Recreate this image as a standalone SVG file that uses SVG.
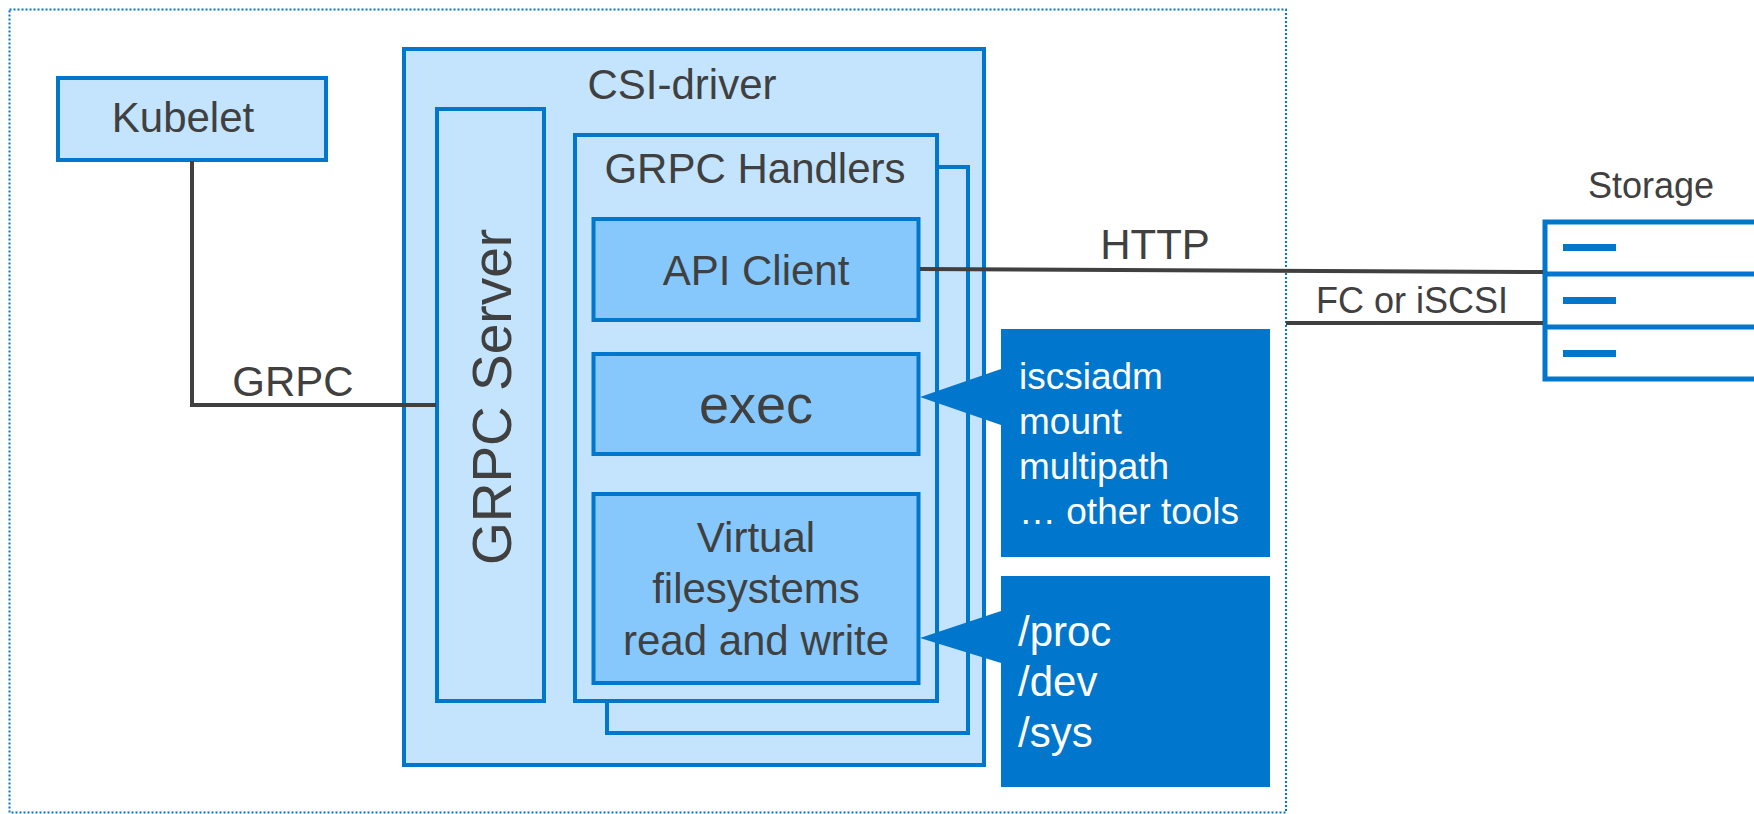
<svg xmlns="http://www.w3.org/2000/svg" width="1754" height="814" viewBox="0 0 1754 814">
<style>
.t{font-family:"Liberation Sans",Arial,sans-serif;fill:#404040}
.w{font-family:"Liberation Sans",Arial,sans-serif;fill:#ffffff}
.lb{fill:#C3E4FC;stroke:#0077CC;stroke-width:4}
.mb{fill:#86C8FB;stroke:#0077CC;stroke-width:4}
.dk{fill:#0077CC}
.ln{stroke:#404040;stroke-width:4;fill:none}
</style>
<rect width="1754" height="814" fill="#ffffff"/>
<rect id="boundary" x="9.5" y="9.5" width="1276.5" height="803" fill="none" stroke="#0077CC" stroke-width="2" stroke-dasharray="2 2"/>
<g id="kubelet">
<rect class="lb" x="58" y="78" width="268" height="82"/>
<text class="t" x="183" y="132" font-size="42" text-anchor="middle">Kubelet</text>
</g>
<g id="csi-driver">
<rect class="lb" x="404" y="49" width="580" height="716"/>
<text class="t" x="682" y="99" font-size="42" text-anchor="middle">CSI-driver</text>
</g>
<g id="grpc-server">
<rect class="lb" x="437" y="109" width="107" height="592"/>
<text class="t" transform="translate(511,397) rotate(-90)" font-size="55" text-anchor="middle">GRPC Server</text>
</g>
<g id="grpc-handlers">
<rect class="lb" x="607" y="167" width="361" height="566"/>
<rect class="lb" x="575" y="135" width="362" height="566"/>
<text class="t" x="755" y="183" font-size="42" text-anchor="middle">GRPC Handlers</text>
</g>
<g id="api-client">
<rect class="mb" x="593.5" y="219" width="325" height="101"/>
<text class="t" x="756" y="285" font-size="42" text-anchor="middle">API Client</text>
</g>
<g id="exec">
<rect class="mb" x="593.5" y="354" width="325" height="100"/>
<text class="t" x="756" y="423" font-size="54" text-anchor="middle">exec</text>
</g>
<g id="vfs">
<rect class="mb" x="593.5" y="494" width="325" height="189"/>
<text class="t" font-size="42" text-anchor="middle"><tspan x="756" y="552">Virtual</tspan><tspan x="756" y="603">filesystems</tspan><tspan x="756" y="655">read and write</tspan></text>
</g>
<g id="tools-callout">
<path class="dk" d="M1001,329 H1270 V557 H1001 V425 L920,397 L1001,369 Z"/>
<text class="w" font-size="37"><tspan x="1019" y="389">iscsiadm</tspan><tspan x="1019" y="434">mount</tspan><tspan x="1019" y="479">multipath</tspan><tspan x="1019" y="524">… other tools</tspan></text>
</g>
<g id="fs-callout">
<path class="dk" d="M1001,576 H1270 V787 H1001 V663 L920,638 L1001,611 Z"/>
<text class="w" font-size="42"><tspan x="1018" y="646">/proc</tspan><tspan x="1018" y="696">/dev</tspan><tspan x="1018" y="747">/sys</tspan></text>
</g>
<g id="storage">
<text class="t" x="1651" y="198" font-size="36" text-anchor="middle">Storage</text>
<rect x="1545" y="222" width="220" height="157" fill="#ffffff" stroke="#0077CC" stroke-width="5"/>
<line x1="1545" y1="274" x2="1754" y2="274" stroke="#0077CC" stroke-width="5"/>
<line x1="1545" y1="327" x2="1754" y2="327" stroke="#0077CC" stroke-width="5"/>
<rect x="1563" y="244" width="53" height="7" fill="#0077CC"/>
<rect x="1563" y="297" width="53" height="7" fill="#0077CC"/>
<rect x="1563" y="350" width="53" height="7" fill="#0077CC"/>
</g>
<g id="connectors">
<polyline class="ln" points="192,161 192,405 436,405"/>
<text class="t" x="293" y="396" font-size="42" text-anchor="middle">GRPC</text>
<line class="ln" x1="920" y1="269" x2="1543" y2="272"/>
<text class="t" x="1155" y="259" font-size="42" text-anchor="middle">HTTP</text>
<line class="ln" x1="1286" y1="323" x2="1543" y2="323"/>
<text class="t" x="1412" y="313" font-size="36" text-anchor="middle">FC or iSCSI</text>
</g>
</svg>
